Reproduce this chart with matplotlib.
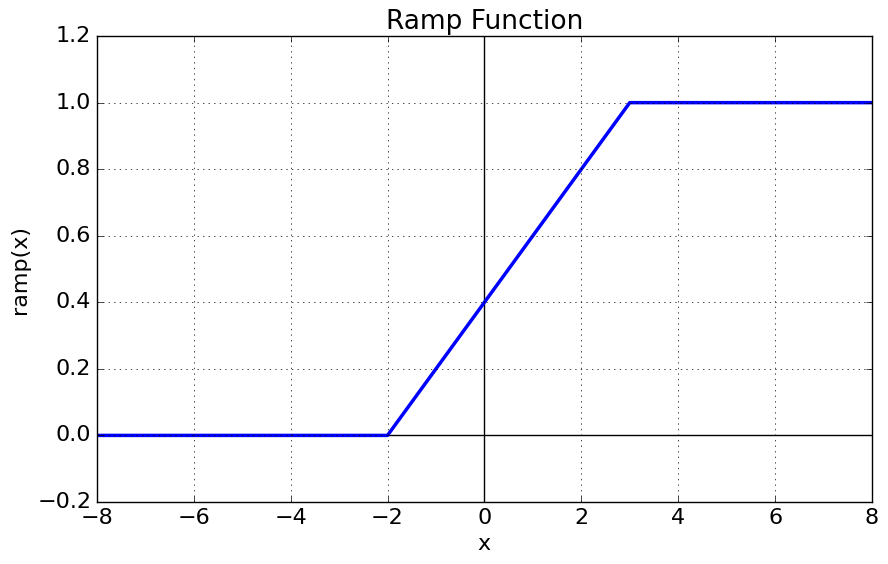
import matplotlib
matplotlib.use('Agg')
import matplotlib.pyplot as plt

plt.style.use('classic')

# ramp breakpoints
x_pts = [-8, -2, 3, 8]
y_pts = [0.0, 0.0, 1.0, 1.0]

fig, ax = plt.subplots(figsize=(8.88, 5.64), dpi=100)
fig.patch.set_facecolor('white')

ax.axhline(0, color='black', linewidth=1)
ax.axvline(0, color='black', linewidth=1)
ax.plot(x_pts, y_pts, color='blue', linewidth=2.5)

ax.set_xlim(-8, 8)
ax.set_ylim(-0.2, 1.2)
ax.set_title('Ramp Function', fontsize=19)
ax.set_xlabel('x', fontsize=16)
ax.set_ylabel('ramp(x)', fontsize=16)
ax.tick_params(labelsize=16)
ax.grid(True)

plt.subplots_adjust(left=0.109, right=0.982, top=0.936, bottom=0.11)
plt.savefig('out.png', dpi=100, facecolor='white')
